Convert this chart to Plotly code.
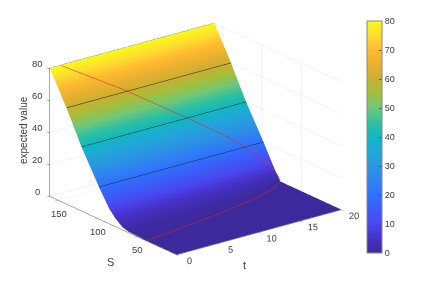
import plotly.graph_objects as go

t_values = [0, 5, 10, 15, 18, 20]
s_values = [0, 34, 43, 51, 60, 68, 77, 85, 98, 120, 139, 160]
z_rows = [
    [0.2, 0.2, 0.25, 0.35, 0.55, 1.6, 5.0, 9.4, 20, 40, 60, 80],
    [0.2, 0.2, 0.22, 0.3, 0.5, 1.4, 4.7, 9.2, 20, 40, 60, 80],
    [0.2, 0.2, 0.2, 0.25, 0.45, 1.2, 4.2, 9.0, 20, 40, 60, 80],
    [0.2, 0.2, 0.2, 0.2, 0.35, 0.8, 3.2, 8.5, 20, 40, 60, 80],
    [0.2, 0.2, 0.2, 0.2, 0.25, 0.4, 1.8, 7.8, 20, 40, 60, 80],
    [0.2, 0.2, 0.2, 0.2, 0.2, 0.2, 0.2, 7.2, 20, 40, 60, 80],
]
upper_t = [1.3, 7, 12.5, 15.5, 17.4, 18.2, 19.5, 19.9, 20]
upper_s = [159, 139, 118, 107, 98.5, 93.5, 85.6, 80, 77]
upper_z = [80, 61.5, 41.2, 30, 21.8, 16.8, 9, 4.2, 1]
lower_t = [0, 5, 9.75, 12.6, 14.5, 16, 17.5, 18.5, 19.5, 20]
lower_s = [36.6, 42.5, 48.5, 53, 56, 59.6, 64, 67, 73, 77]
lower_z = [0.7, 0.7, 0.7, 0.8, 0.9, 1.0, 1.1, 1.2, 1.4, 1.0]
contour_levels = [20, 40, 60, 80]
contour_s = [98, 120, 139, 160]
t_ticks = [0, 5, 10, 15, 20]
s_ticks = [50, 100, 150]
z_ticks = [0, 20, 40, 60, 80]
cbar_ticks = [0, 10, 20, 30, 40, 50, 60, 70, 80]

parula = [
    [0.0, "#3c2a9c"], [0.0625, "#4830c8"], [0.125, "#4848f0"], [0.25, "#3070ff"],
    [0.3125, "#2e85f0"], [0.375, "#2a98e0"], [0.4375, "#20a8d8"], [0.5, "#10b8c0"],
    [0.5625, "#30c0a0"], [0.625, "#70c878"], [0.6875, "#a0c040"], [0.75, "#c8b030"],
    [0.8125, "#e8b030"], [0.875, "#ffba30"], [0.9375, "#ffdc30"], [1.0, "#f9fb15"],
]

AX = "#555555"
GRID = "#e6e6e6"
FONT = dict(family="Liberation Sans, Arial, sans-serif", size=10.5, color="#404040")
LABEL = dict(family="Liberation Sans, Arial, sans-serif", size=9.5, color="#404040")

fig = go.Figure()
fig.add_trace(go.Surface(
    x=t_values, y=s_values, z=list(map(list, zip(*z_rows))),
    colorscale=parula, cmin=0, cmax=80,
    lighting=dict(ambient=1, diffuse=0, specular=0, roughness=1, fresnel=0),
    hoverinfo="skip",
    contours=dict(z=dict(show=True, start=20, end=70, size=20, color="#222222", width=1)),
    colorbar=dict(
        x=359/436, xanchor="left", y=1-13/285, yanchor="top",
        len=232/285, lenmode="fraction", thickness=15, thicknessmode="pixels",
        tickvals=cbar_ticks, ticks="inside", ticklen=3, tickcolor=AX,
        outlinecolor="#888888", outlinewidth=1, tickfont=dict(size=9, color="#404040"),
        xpad=0, ypad=0,
    ),
))
fig.add_trace(go.Scatter3d(
    x=[t_values[0], t_values[-1]], y=[contour_s[-1]]*2, z=[contour_levels[-1]]*2,
    mode="lines", line=dict(color="#222222", width=1.5), showlegend=False, hoverinfo="skip"))
for xs, ys, zs in [(upper_t, upper_s, upper_z), (lower_t, lower_s, lower_z)]:
    fig.add_trace(go.Scatter3d(
        x=xs, y=ys, z=zs, mode="lines",
        line=dict(color="#e0202a", width=1), showlegend=False, hoverinfo="skip"))

axis = dict(showbackground=False, showspikes=False, gridcolor=GRID, gridwidth=1,
            linecolor=AX, linewidth=1, showline=True, zeroline=False,
            ticks="outside", ticklen=3, tickcolor=AX, tickfont=FONT, tickangle=0)
z_labels = [dict(x=t_values[0], y=s_values[-1], z=v, text=str(v), showarrow=False,
                 xshift=-12, yshift=5, font=LABEL) for v in z_ticks]
s_labels = [dict(x=t_values[0], y=v, z=0, text=str(v), showarrow=False,
                 xshift=1, yshift=-13, font=LABEL) for v in s_ticks]
fig.update_layout(
    width=436, height=285, margin=dict(l=0, r=0, t=0, b=0),
    paper_bgcolor="white", font=FONT, showlegend=False,
    annotations=[
        dict(text="expected value", x=15/436, y=1-122/285, xref="paper", yref="paper",
             xanchor="center", yanchor="middle",
             showarrow=False, textangle=-90, font=dict(size=10, color="#404040")),
        dict(text="S", x=102/436, y=1-254/285, xref="paper", yref="paper",
             xanchor="center", yanchor="middle",
             showarrow=False, font=dict(size=11, color="#404040")),
        dict(text="t", x=236/436, y=1-257/285, xref="paper", yref="paper",
             xanchor="center", yanchor="middle",
             showarrow=False, font=dict(size=11, color="#404040")),
    ],
    scene=dict(
        domain=dict(x=[0, 0.86], y=[0.08, 1.0]),
        annotations=z_labels + s_labels,
        xaxis=dict(axis, range=[0, 20], tickvals=t_ticks, title=dict(text="")),
        yaxis=dict(axis, range=[0, 160], tickvals=s_ticks, title=dict(text=""), showticklabels=False),
        zaxis=dict(axis, range=[0, 80], tickvals=z_ticks, title=dict(text=""), showticklabels=False),
        aspectmode="manual", aspectratio=dict(x=1.587, y=1.587, z=1.047),
        camera=dict(projection=dict(type="orthographic"),
                    eye=dict(x=-0.76, y=-0.987, z=0.473),
                    up=dict(x=0, y=0, z=1)),
    ),
)
fig.write_html("out.html")
